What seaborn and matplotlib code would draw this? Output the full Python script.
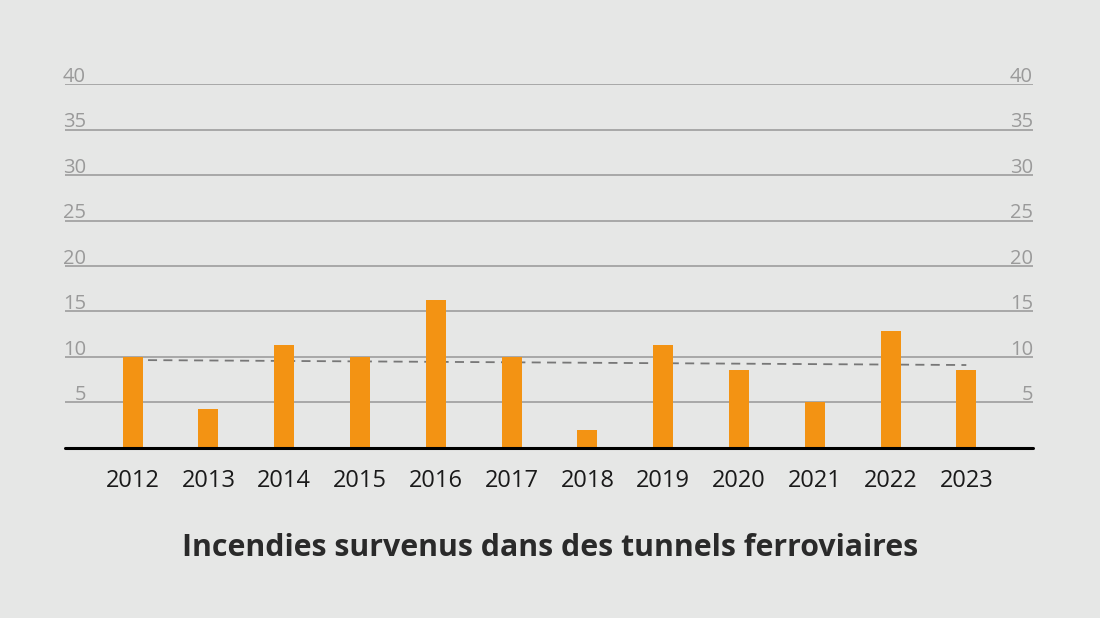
import matplotlib
matplotlib.use("Agg")
import matplotlib.pyplot as plt
import seaborn as sns
import pandas as pd

years = ["2012", "2013", "2014", "2015", "2016", "2017", "2018", "2019", "2020", "2021", "2022", "2023"]
fires = [10, 4.3, 11.3, 10, 16.3, 10, 2, 11.3, 8.55, 5, 12.85, 8.55]
trend_start, trend_end = 9.65, 9.1
y_ticks = [5, 10, 15, 20, 25, 30, 35, 40]
title = "Incendies survenus dans des tunnels ferroviaires"

BG = "#e6e7e6"
sns.set_theme(style="white")
plt.rcParams["font.family"] = ["Open Sans", "DejaVu Sans"]

df = pd.DataFrame({"year": years, "fires": fires})

fig = plt.figure(figsize=(11, 6.18), dpi=100, facecolor=BG)
ax = fig.add_axes([65 / 1100, 1 - 447.7 / 618, 968 / 1100, (447.7 - 84.3) / 618])
ax.set_facecolor(BG)

for v in y_ticks:
    ax.axhline(v, color="#a3a3a3", lw=1.3, zorder=0)
    for xa in (0.0215, 1.0):
        ax.text(xa, v + 0.25, str(v), transform=ax.get_yaxis_transform(), ha="right", va="baseline",
                color="#9a9a9a", fontsize=14.5)

ax.plot([0, len(years) - 1], [trend_start, trend_end], ls=(0, (5, 3.5)), color="#777777", lw=1.3, zorder=1)

sns.barplot(data=df, x="year", y="fires", color="#f39313", saturation=1, width=0.264,
            linewidth=0, edgecolor="none", ax=ax, zorder=2)

ax.set_xlim(-0.893, 11.88)
ax.set_ylim(0, 40)
ax.axhline(0, color="black", lw=2.2, zorder=3, clip_on=False)
for s in ax.spines.values():
    s.set_visible(False)
ax.set_yticks([])
ax.set_xlabel("")
ax.set_ylabel("")
ax.tick_params(axis="x", length=0, pad=15, labelsize=17, labelcolor="#1a1a1a")

fig.text(0.5, 1 - 548 / 618, title, ha="center", va="center", fontsize=21.8, fontweight="bold", color="#2a2a2a")

fig.savefig("out.png", dpi=100, facecolor=BG)
